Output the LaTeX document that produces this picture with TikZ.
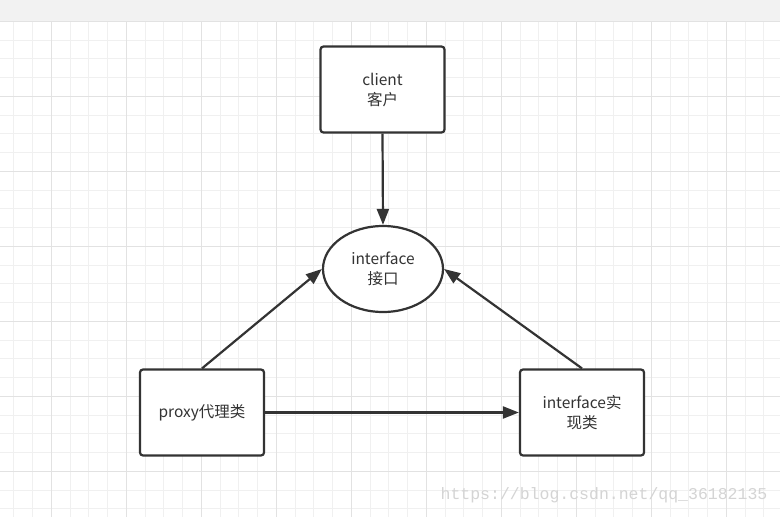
\documentclass[tikz,border=0pt]{standalone}
\usepackage{fontspec}
\setmainfont{Noto Sans CJK SC}
\newfontfamily\wmfont{Liberation Mono}
\usetikzlibrary{arrows.meta,shapes.geometric}
\tikzset{>={Triangle[width=12pt,length=16pt]}}
\definecolor{ink}{HTML}{333333}
\definecolor{gridminor}{HTML}{F0F0F0}
\definecolor{gridmajor}{HTML}{E2E2E2}
\definecolor{topband}{HTML}{F2F2F2}

\begin{document}
\begin{tikzpicture}[x=1pt,y=-1pt,
    box/.style={draw=ink,line width=2.2pt,rounded corners=3pt,fill=white,
      minimum width=124pt,minimum height=86pt,align=center,text=ink,
      font=\fontsize{15.5}{20}\selectfont},
    oval/.style={box,ellipse,minimum width=120pt,minimum height=86pt},
    link/.style={->,draw=ink,line width=2.2pt}]

  \useasboundingbox (0,0) rectangle (780,517);

  %% background grid
  \fill[white] (0,0) rectangle (780,517);
  \foreach \i in {0,...,41}{
    \draw[gridminor,line width=1pt] (13.8+18.75*\i,21) -- (13.8+18.75*\i,517);
  }
  \foreach \i in {0,...,26}{
    \draw[gridminor,line width=1pt] (0,21.3+18.75*\i) -- (780,21.3+18.75*\i);
  }
  \foreach \i in {0,...,10}{
    \draw[gridmajor,line width=1pt] (51.3+75*\i,21) -- (51.3+75*\i,517);
  }
  \foreach \i in {0,...,6}{
    \draw[gridmajor,line width=1pt] (0,21.3+75*\i) -- (780,21.3+75*\i);
  }
  \fill[topband] (0,0) rectangle (780,21);

  %% nodes
  \node[box]  (client) at (382.5,89.5) {client\\客户};
  \node[oval] (iface)  at (383,269)    {interface\\接口};
  \node[box]  (proxy)  at (202,412.5)  {proxy代理类};
  \node[box]  (impl)   at (582,412.5)  {interface实\\现类};

  %% links
  \draw[link] (client.south) -- (iface.north); % client -> interface
  \draw[link] (proxy.north) -- (iface.west);   % proxy -> interface
  \draw[link] (impl.north) -- (iface.east);    % impl -> interface
  \draw[link] (proxy.east) -- (impl.west);     % proxy -> impl

  %% watermark
  \node[text=black!17,font=\wmfont\fontsize{16.5}{18}\selectfont] (mark) at (604,495)
    {https://blog.csdn.net/qq\_36182135};

\end{tikzpicture}
\end{document}
